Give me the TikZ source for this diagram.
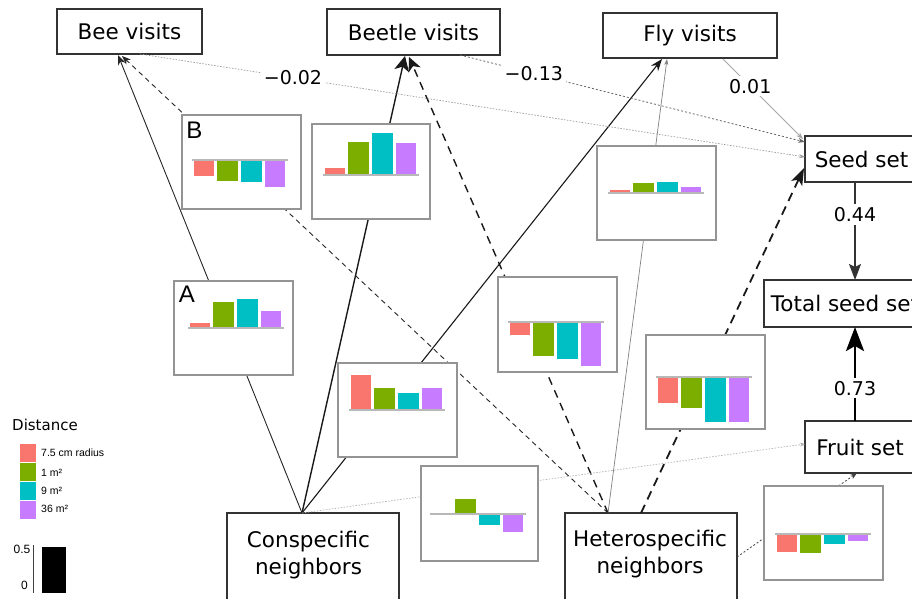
\documentclass[tikz,border=0pt]{standalone}
\usepackage{fontspec}
\setmainfont{DejaVu Sans}
\newfontfamily\arialf{Liberation Sans}
\usetikzlibrary{arrows.meta}
\definecolor{cr}{HTML}{F8766D}
\definecolor{cg}{HTML}{7CAE00}
\definecolor{cc}{HTML}{00BFC4}
\definecolor{cp}{HTML}{C77CFF}
\tikzset{
  nodebox/.style={draw=black!80, line width=1.2pt, fill=white, inner sep=0pt, font=\fontsize{21.5}{27}\selectfont},
  boxtext/.style={align=center, inner sep=0pt, font=\fontsize{21.5}{27}\selectfont},
  chartbox/.style={draw=black!42, line width=1.2pt, fill=white, inner sep=0pt},
  barstyle/.style={draw=white, line width=0.5pt},
  zeroline/.style={draw=black!28, line width=1.3pt},
  numlab/.style={fill=white, text=black, inner sep=3pt, font=\fontsize{19}{22}\selectfont},
  panellab/.style={inner sep=0pt, font=\arialf\fontsize{24}{24}\selectfont},
  swatch/.style={draw=white, line width=0.6pt, minimum width=17pt, minimum height=19pt, inner sep=0pt},
  leglab/.style={anchor=west, inner sep=0pt, font=\arialf\fontsize{10.5}{12}\selectfont},
}
\newcommand{\fourbars}[6]{%
  \path[barstyle, fill=cr] (#1,#2) rectangle ++(21.5,{-(#3)});
  \path[barstyle, fill=cg] ({#1+23.7},#2) rectangle ++(21.5,{-(#4)});
  \path[barstyle, fill=cc] ({#1+47.4},#2) rectangle ++(21.5,{-(#5)});
  \path[barstyle, fill=cp] ({#1+71.1},#2) rectangle ++(21.5,{-(#6)});
  \draw[zeroline] ({#1-1.5},#2) -- ({#1+95},#2);
}
\begin{document}
\begin{tikzpicture}[x=1pt,y=-1pt]
\useasboundingbox (0,0) rectangle (912,599);
\clip (0,0) rectangle (912,599);

% ---------- boxes ----------
\node[nodebox, minimum width=145pt, minimum height=45pt] (bee) at (129.5,31.5) {Bee visits};
\node[nodebox, minimum width=173pt, minimum height=46pt] (beetle) at (413.5,32) {Beetle visits};
\node[nodebox, minimum width=174pt, minimum height=45pt] (fly) at (690,35.5) {Fly visits};
\node[nodebox, minimum width=113pt, minimum height=46pt] (seed) at (861.5,159) {Seed set};
\node[nodebox, minimum width=162pt, minimum height=47pt] (total) at (845,303.5) {Total seed set};
\node[nodebox, minimum width=110pt, minimum height=52pt] (fruit) at (860,447) {Fruit set};
\node[nodebox, minimum width=172pt, minimum height=110pt] (cons) at (313,568) {};
\node[boxtext] (constext) at (308.5,555) {Conspecific\\neighbors};
\node[nodebox, minimum width=172pt, minimum height=110pt] (hetero) at (651,568) {};
\node[boxtext] (heterotext) at (650,554.5) {Heterospecific\\neighbors};

% ---------- attachment points ----------
\coordinate (cs) at (302,513);
\coordinate (hs) at (608,513);
\coordinate (hs2) at (641,513);
\coordinate (hs3) at (737,557);
\coordinate (beeInA) at (118,55);
\coordinate (beeInB) at (122,56);
\coordinate (beeOut) at (140,54);
\coordinate (btInA) at (405,56);
\coordinate (btInB) at (409,57);
\coordinate (btOut) at (460,55);
\coordinate (flInA) at (662,59);
\coordinate (flInB) at (667,59);
\coordinate (flOut) at (723,59);
\coordinate (sdInBeetle) at (805,142);
\coordinate (sdInBee) at (805,157);
\coordinate (sdInFly) at (803,139);
\coordinate (sdInHet) at (804,168);
\coordinate (sdOut) at (855,182);
\coordinate (totTop) at (855,280);
\coordinate (totBot) at (855,327);
\coordinate (frTop) at (855,421);
\coordinate (frLeft) at (805,444);
\coordinate (frBot) at (857,473);

% ---------- connectors ----------
\draw[black!85, line width=0.9pt, -{Stealth[length=10pt,width=8pt]}] (cs) -- (beeInA);
\draw[black!85, line width=0.9pt, dash pattern=on 5pt off 4pt, -{Stealth[length=9pt,width=7pt]}] (hs) -- (beeInB);
\draw[black!90, line width=1.4pt, -{Stealth[length=15pt,width=15pt,inset=4pt]}] (cs) -- (btInA);
\draw[black!90, line width=1.4pt, dash pattern=on 8pt off 6pt, -{Stealth[length=14pt,width=13pt,inset=4pt]}] (hs) -- (btInB);
\draw[black!90, line width=1.1pt, -{Stealth[length=12pt,width=9pt]}] (cs) -- (flInA);
\draw[black!50, line width=0.7pt, -{Stealth[length=6pt,width=4pt]}] (hs) -- (flInB);
\draw[black!90, line width=1.8pt, dash pattern=on 9pt off 6pt, -{Stealth[length=17pt,width=12pt,inset=4pt]}] (hs2) -- (sdInHet);
\draw[black!30, line width=0.7pt, dash pattern=on 1.5pt off 1.5pt, -{Stealth[length=5pt,width=4pt]}] (cs) -- (frLeft);
\draw[black!75, line width=0.8pt, dash pattern=on 2pt off 2pt, -{Stealth[length=7pt,width=5pt]}] (hs3) -- (frBot);
\draw[black!40, line width=0.7pt, dash pattern=on 1.5pt off 1.5pt, -{Stealth[length=6pt,width=4pt]}] (beeOut) -- node[numlab, pos=0.23] {−0.02} (sdInBee);
\draw[black!60, line width=0.8pt, dash pattern=on 2pt off 2pt, -{Stealth[length=7pt,width=5pt]}] (btOut) -- node[numlab, pos=0.214] {−0.13} (sdInBeetle);
\draw[black!35, line width=0.8pt, -{Stealth[length=7pt,width=5pt]}] (flOut) -- node[numlab, pos=0.34] {0.01} (sdInFly);
\draw[black!80, line width=1.5pt, -{Stealth[length=16pt,width=12pt,inset=3pt]}] (sdOut) -- node[numlab, pos=0.33] {0.44} (totTop);
\draw[black, line width=2.8pt, -{Stealth[length=24pt,width=18pt,inset=5pt]}] (frTop) -- node[numlab, pos=0.35] {0.73} (totBot);

% ---------- bar charts ----------
\node[chartbox, minimum width=119pt, minimum height=94pt] (chA) at (233.5,328) {};
\fourbars{189}{328}{6}{27}{30}{18}
\node[panellab] (labA) at (187,294) {A};

\node[chartbox, minimum width=119pt, minimum height=94pt] (chB) at (241.5,162) {};
\fourbars{193}{160}{-16}{-21}{-22}{-27}
\node[panellab] (labB) at (194.5,130.5) {B};

\node[chartbox, minimum width=118pt, minimum height=95pt] (chC) at (371,171.5) {};
\fourbars{324}{175}{8}{34}{43}{33}

\node[chartbox, minimum width=119pt, minimum height=94pt] (chD) at (397.5,410) {};
\fourbars{350}{410}{36}{23}{18}{23}

\node[chartbox, minimum width=119pt, minimum height=95pt] (chE) at (557.5,324.5) {};
\fourbars{509}{322}{-13}{-34}{-37}{-44}

\node[chartbox, minimum width=119pt, minimum height=94pt] (chF) at (705.5,382) {};
\fourbars{657}{377}{-26}{-31}{-45}{-45}

\node[chartbox, minimum width=119pt, minimum height=94pt] (chG) at (656.5,193) {};
\fourbars{609}{193}{4}{11}{12}{7}

\node[chartbox, minimum width=117pt, minimum height=95pt] (chH) at (479.5,513.5) {};
\fourbars{431}{514}{0}{16}{-11}{-18}

\node[chartbox, minimum width=119pt, minimum height=94pt] (chI) at (823.5,533) {};
\fourbars{776}{534}{-18}{-19}{-10}{-7}

% ---------- legend ----------
\node[anchor=west, inner sep=0pt, font=\fontsize{15}{18}\selectfont] (legtitle) at (12,425) {Distance};
\node[swatch, fill=cr] (sw1) at (27.5,452.5) {};
\node[swatch, fill=cg] (sw2) at (27.5,471.5) {};
\node[swatch, fill=cc] (sw3) at (27.5,490.5) {};
\node[swatch, fill=cp] (sw4) at (27.5,509.5) {};
\node[leglab] (lb1) at (41,453) {7.5 cm radius};
\node[leglab] (lb2) at (41,472.5) {1 m²};
\node[leglab] (lb3) at (41,490.5) {9 m²};
\node[leglab] (lb4) at (41,509) {36 m²};

\coordinate (ax1) at (33,545);
\coordinate (ax2) at (33,593);
\draw[black!75, line width=0.8pt] (ax1) -- (ax2);
\node[fill=black, minimum width=24pt, minimum height=46pt, inner sep=0pt] (scalebar) at (54,570) {};
\node[anchor=east, inner sep=0pt, font=\arialf\fontsize{12}{14}\selectfont] (s05) at (30.5,549) {0.5};
\node[anchor=east, inner sep=0pt, font=\arialf\fontsize{12}{14}\selectfont] (s0) at (28,585) {0};
\end{tikzpicture}
\end{document}
